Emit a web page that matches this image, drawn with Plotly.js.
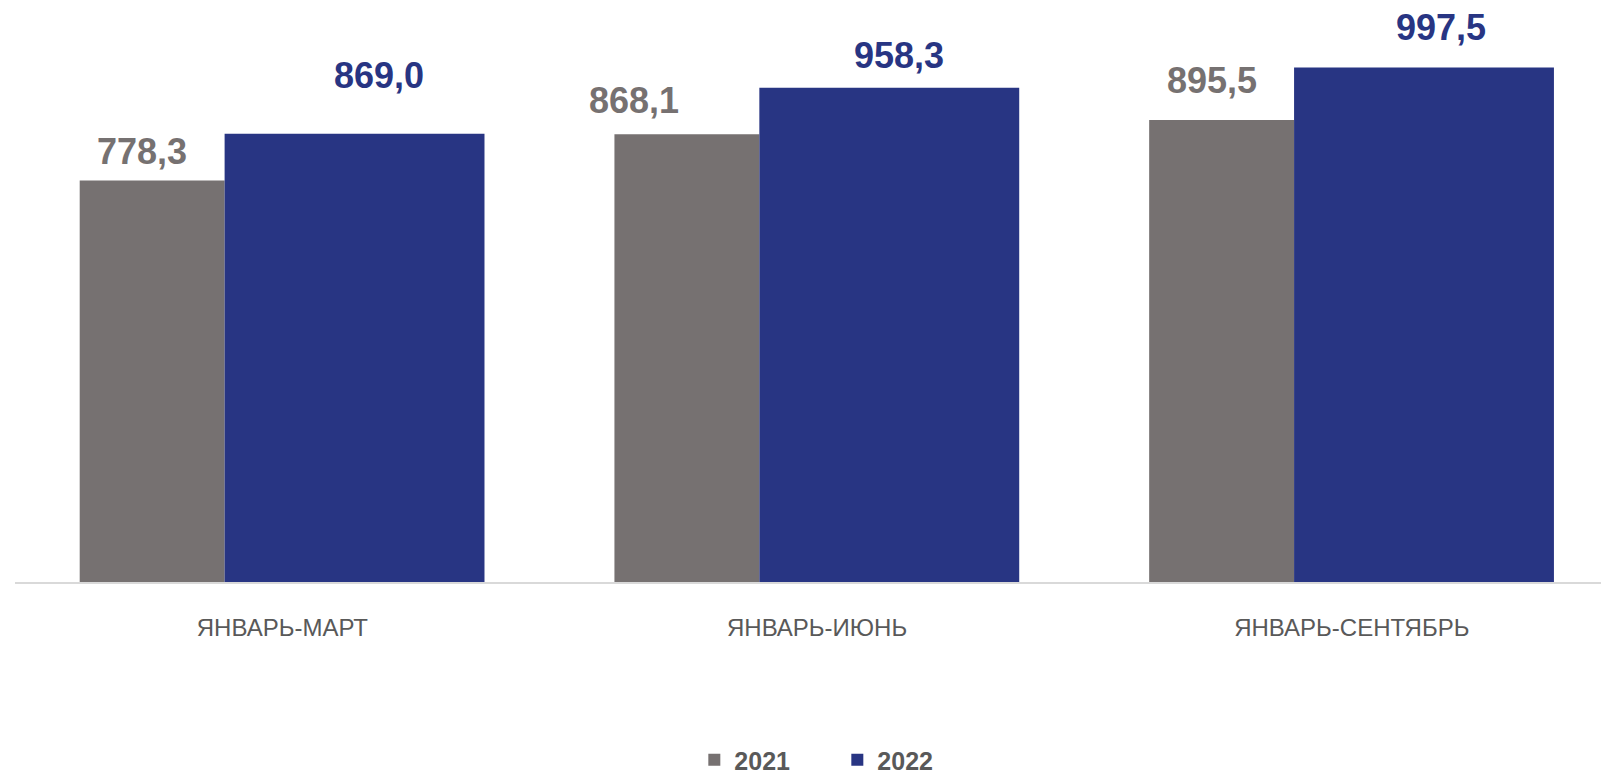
<!DOCTYPE html>
<html>
<head>
<meta charset="utf-8">
<script src="https://cdn.plot.ly/plotly-3.0.1.min.js"></script>
<style>
  html, body { margin: 0; padding: 0; background: #ffffff; }
  #chart { width: 1601px; height: 782px; }
</style>
</head>
<body>
<div id="chart"></div>
<script>
// ---- data ----
const categories = ['ЯНВАРЬ-МАРТ', 'ЯНВАРЬ-ИЮНЬ', 'ЯНВАРЬ-СЕНТЯБРЬ'];
const seriesNames = ['2021', '2022'];
const values2021 = [778.3, 868.1, 895.5];
const values2022 = [869.0, 958.3, 997.5];

// ---- style ----
const FONT = 'Liberation Sans, Arial, sans-serif';
const colors = ['#767171', '#283583'];
const barWidths = [0.271, 0.486];
const barOffsets = [-0.379, -0.108];
// pixel nudges of value labels (dx, gap above bar top to text baseline)
const labelNudge = [
  [[-10, 16], [-53, 20], [-10, 26]],
  [[24, 45], [10, 19], [17, 27]]
];

const series = [values2021, values2022];
const fmt = v => v.toFixed(1).replace('.', ',');

const traces = series.map((vals, s) => ({
  type: 'bar',
  name: seriesNames[s],
  x: categories,
  y: vals,
  width: barWidths[s],
  offset: barOffsets[s],
  marker: { color: colors[s], line: { width: 0 } },
  hoverinfo: 'skip'
}));

const annotations = [];
series.forEach((vals, s) => {
  vals.forEach((v, i) => {
    annotations.push({
      x: i + barOffsets[s] + barWidths[s] / 2,
      y: v,
      xref: 'x', yref: 'y',
      text: fmt(v),
      showarrow: false,
      xanchor: 'center', yanchor: 'bottom',
      xshift: labelNudge[s][i][0],
      yshift: labelNudge[s][i][1] - 9,
      font: { family: FONT, size: 36, color: colors[s], weight: 'bold' }
    });
  });
});

const layout = {
  width: 1601, height: 782,
  margin: { l: 15, r: 0, t: 0, b: 200 },
  paper_bgcolor: '#ffffff', plot_bgcolor: '#ffffff',
  barmode: 'overlay',
  showlegend: true,
  legend: {
    orientation: 'h',
    xref: 'container', yref: 'container',
    x: 0.523, xanchor: 'center',
    y: 0.028, yanchor: 'middle',
    font: { family: FONT, size: 25, color: '#595959', weight: 'bold' },
    entrywidth: 98, entrywidthmode: 'pixels',
    itemwidth: 30
  },
  xaxis: {
    type: 'category',
    range: [-0.5, 2.466],
    showline: true, linecolor: '#d9d9d9', linewidth: 2,
    showgrid: false, zeroline: false,
    ticks: '',
    ticklabelstandoff: 23,
    tickfont: { family: FONT, size: 24, color: '#595959' },
    fixedrange: true
  },
  yaxis: {
    range: [0, 1128.4],
    visible: false,
    showgrid: false, zeroline: false,
    fixedrange: true
  },
  annotations: annotations
};

Plotly.newPlot('chart', traces, layout, { displayModeBar: false, staticPlot: true });
</script>
</body>
</html>
